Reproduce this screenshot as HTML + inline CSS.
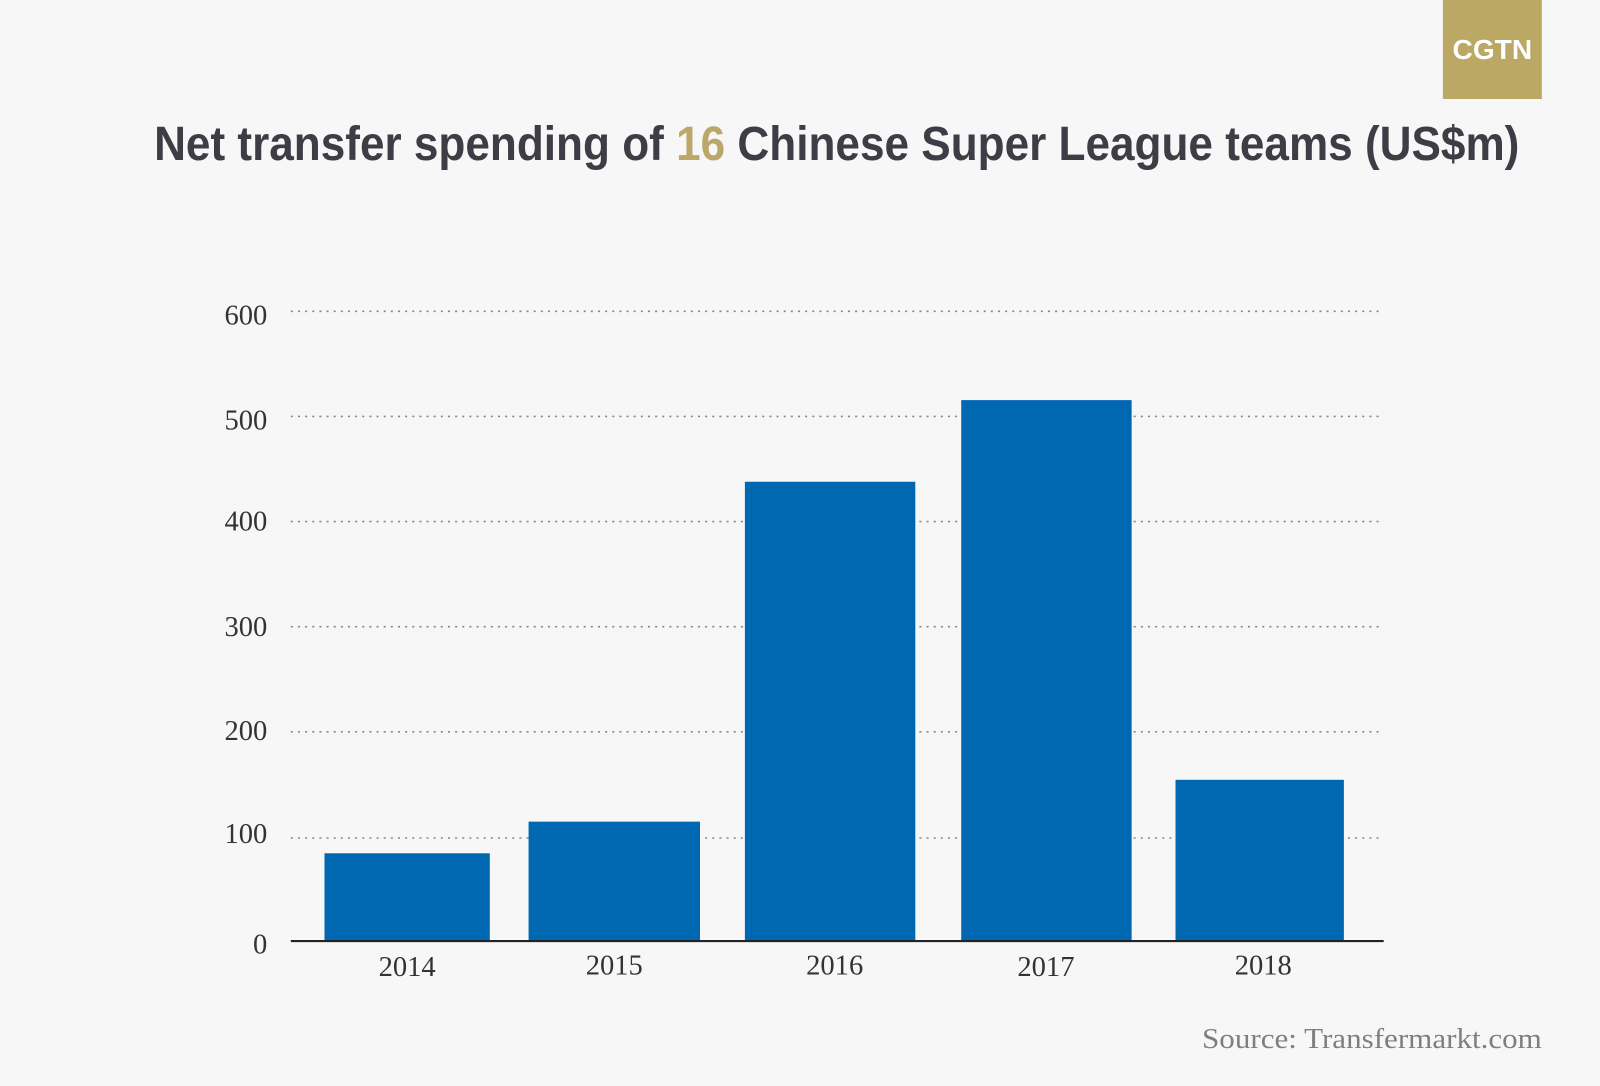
<!DOCTYPE html>
<html><head><meta charset="utf-8"><style>
html,body{margin:0;padding:0;background:#f7f7f7;}
svg{display:block;}
</style></head><body>
<svg width="1600" height="1086" viewBox="0 0 1568 1064" preserveAspectRatio="none" xmlns="http://www.w3.org/2000/svg">
<rect width="1568" height="1064" fill="#f7f7f7"/>
<rect x="1414" y="0" width="97" height="97" fill="#bca865"/>
<text x="1462.5" y="58" text-anchor="middle" font-family="Liberation Sans, sans-serif" font-weight="bold" font-size="27" fill="#fff" textLength="78" lengthAdjust="spacingAndGlyphs">CGTN</text>
<text x="151" y="157" font-family="Liberation Sans, sans-serif" font-weight="bold" font-size="47" fill="#3d3d46" textLength="1338" lengthAdjust="spacingAndGlyphs">Net transfer spending of <tspan fill="#bba76a">16</tspan> Chinese Super League teams (US$m)</text>
<g stroke="#888" stroke-width="1.5" stroke-dasharray="2 5">
<line x1="285" x2="1352" y1="305" y2="305"/>
<line x1="285" x2="1352" y1="408" y2="408"/>
<line x1="285" x2="1352" y1="511" y2="511"/>
<line x1="285" x2="1352" y1="614" y2="614"/>
<line x1="285" x2="1352" y1="717" y2="717"/>
<line x1="285" x2="1352" y1="821" y2="821"/>
</g>
<g fill="#0067b1">
<rect x="318" y="836" width="162" height="86"/>
<rect x="518" y="805" width="168" height="117"/>
<rect x="730" y="472" width="167" height="450"/>
<rect x="942" y="392" width="167" height="530"/>
<rect x="1152" y="764" width="165" height="158"/>
</g>
<line x1="285" x2="1356" y1="922" y2="922" stroke="#222" stroke-width="2"/>
<g font-family="Liberation Serif, serif" font-size="28" fill="#333" text-anchor="end">
<text x="262" y="318">600</text>
<text x="262" y="421">500</text>
<text x="262" y="520">400</text>
<text x="262" y="623">300</text>
<text x="262" y="725">200</text>
<text x="262" y="826">100</text>
<text x="262" y="934">0</text>
</g>
<g font-family="Liberation Serif, serif" font-size="28" fill="#333" text-anchor="middle">
<text x="399" y="956">2014</text>
<text x="602" y="955">2015</text>
<text x="818" y="955">2016</text>
<text x="1025" y="956">2017</text>
<text x="1238" y="955">2018</text>
</g>
<text x="1178" y="1027" font-family="Liberation Serif, serif" font-size="28" fill="#7f7f7f" textLength="333" lengthAdjust="spacingAndGlyphs">Source: Transfermarkt.com</text>
</svg>
</body></html>
